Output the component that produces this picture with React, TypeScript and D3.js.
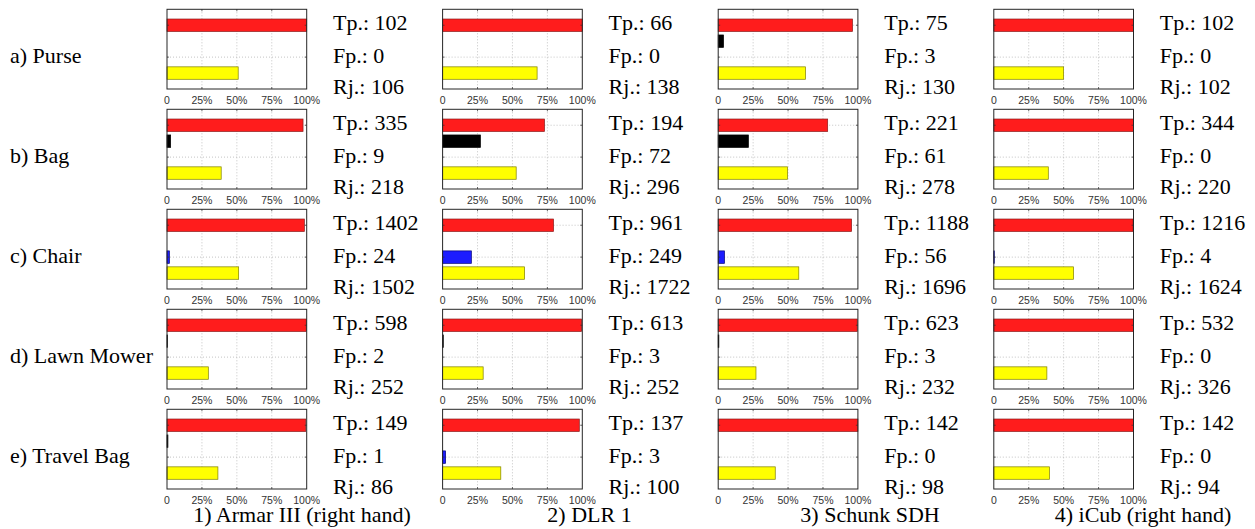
import React from "react";
import * as d3 from "d3";

// Objects (rows) and hands (columns)
const objects = ["a) Purse", "b) Bag", "c) Chair", "d) Lawn Mower", "e) Travel Bag"];
const hands = ["1) Armar III (right hand)", "2) DLR 1", "3) Schunk SDH", "4) iCub (right hand)"];

// Counts: rows = objects, columns = hands
const tp = [
  [102, 66, 75, 102],
  [335, 194, 221, 344],
  [1402, 961, 1188, 1216],
  [598, 613, 623, 532],
  [149, 137, 142, 142],
];
const fp = [
  [0, 0, 3, 0],
  [9, 72, 61, 0],
  [24, 249, 56, 4],
  [2, 3, 3, 0],
  [1, 3, 0, 0],
];
const rj = [
  [106, 138, 130, 102],
  [218, 296, 278, 220],
  [1502, 1722, 1696, 1624],
  [252, 252, 232, 326],
  [86, 100, 98, 94],
];
// which false-positive bar is used: "k" = black (slot 2), "b" = blue (slot 3)
const fpKind = [
  ["k", "k", "k", "k"],
  ["k", "k", "k", "k"],
  ["b", "b", "b", "b"],
  ["k", "k", "k", "k"],
  ["k", "b", "k", "k"],
];
const xTicks = [0, 25, 50, 75, 100];
const xTickLabels = ["0", "25%", "50%", "75%", "100%"];
const captionCenters = [302, 589.5, 870, 1143];

const W = 1255;
const H = 529;
const colLeft0 = 167;
const colStep = 275.6;
const boxW = 139.7;
const rowTop0 = 9.3;
const rowStep = 100;
const boxH = 79.7;
const serif = "'Liberation Serif', 'Times New Roman', serif";
const sans = "'Liberation Sans', Arial, Helvetica, sans-serif";
const serifSize = 22;

function Panel({ r, c }: { r: number; c: number }) {
  const left = colLeft0 + c * colStep;
  const top = rowTop0 + r * rowStep;
  const x = d3.scaleLinear().domain([0, 100]).range([left, left + boxW]);
  const y = d3.scaleLinear().domain([0, 5]).range([top, top + boxH]);
  const bh = y(0.78) - y(0);
  const T = tp[r][c], F = fp[r][c], R = rj[r][c];
  const redV = (T / (T + F)) * 100;
  const fpV = (F / (T + F)) * 100;
  const yelV = (R / (T + F + R)) * 100;
  const bars = [
    { pos: 1, v: redV, fill: "#ff1c1c", stroke: "#8a1a1a" },
    { pos: 2, v: fpKind[r][c] === "k" ? fpV : 0, fill: "#000000", stroke: "#000000" },
    { pos: 3, v: fpKind[r][c] === "b" ? fpV : 0, fill: "#1c1cff", stroke: "#00007a" },
    { pos: 4, v: yelV, fill: "#ffff00", stroke: "#7f7f00" },
  ];
  const tx = left + 166;
  return (
    <g>
      <rect x={left} y={top} width={boxW} height={boxH} fill="#fff" />
      {[25, 50, 75].map((t) => (
        <line key={"gv" + t} x1={x(t)} x2={x(t)} y1={top} y2={top + boxH}
          stroke="#b5b5b5" strokeWidth={0.8} strokeDasharray="1,2" />
      ))}
      {[1, 3].map((t) => (
        <line key={"gh" + t} x1={left} x2={left + boxW} y1={y(t)} y2={y(t)}
          stroke="#b5b5b5" strokeWidth={0.8} strokeDasharray="1,2" />
      ))}
      {bars.map((b) =>
        b.v > 0 ? (
          <rect key={"b" + b.pos} x={x(0)} y={y(b.pos) - bh / 2} width={x(b.v) - x(0)} height={bh}
            fill={b.fill} stroke={b.stroke} strokeWidth={0.7} />
        ) : null
      )}
      {[25, 50, 75].map((t) => (
        <g key={"tk" + t}>
          <line x1={x(t)} x2={x(t)} y1={top + boxH} y2={top + boxH - 2} stroke="#333" strokeWidth={0.7} />
          <line x1={x(t)} x2={x(t)} y1={top} y2={top + 2} stroke="#333" strokeWidth={0.7} />
        </g>
      ))}
      {[1, 3].map((t) => (
        <g key={"ty" + t}>
          <line x1={left} x2={left + 2} y1={y(t)} y2={y(t)} stroke="#333" strokeWidth={0.7} />
          <line x1={left + boxW} x2={left + boxW - 2} y1={y(t)} y2={y(t)} stroke="#333" strokeWidth={0.7} />
        </g>
      ))}
      <rect x={left} y={top} width={boxW} height={boxH} fill="none" stroke="#262626" strokeWidth={1} />
      {xTicks.map((t, i) => (
        <text key={"xl" + t} x={x(t)} y={top + boxH + 15} textAnchor="middle"
          fontFamily={sans} fontSize={10.5} fill="#333">{xTickLabels[i]}</text>
      ))}
      <text x={tx} y={top + 20.7} fontFamily={serif} fontSize={serifSize} fill="#000">{`Tp.: ${T}`}</text>
      <text x={tx} y={top + 53.4} fontFamily={serif} fontSize={serifSize} fill="#000">{`Fp.: ${F}`}</text>
      <text x={tx} y={top + 84.7} fontFamily={serif} fontSize={serifSize} fill="#000">{`Rj.: ${R}`}</text>
    </g>
  );
}

export default function App() {
  return (
    <svg width={W} height={H} style={{ position: "absolute", left: 0, top: 0, background: "#fff" }}>
      <rect x={0} y={0} width={W} height={H} fill="#fff" />
      {objects.map((o, r) => (
        <text key={o} x={10} y={rowTop0 + r * rowStep + 54} fontFamily={serif} fontSize={serifSize} fill="#000">{o}</text>
      ))}
      {objects.map((_, r) => hands.map((__, c) => <Panel key={r + "-" + c} r={r} c={c} />))}
      {hands.map((h, c) => (
        <text key={h} x={captionCenters[c]} y={522} textAnchor="middle" fontFamily={serif} fontSize={serifSize} fill="#000">{h}</text>
      ))}
    </svg>
  );
}
